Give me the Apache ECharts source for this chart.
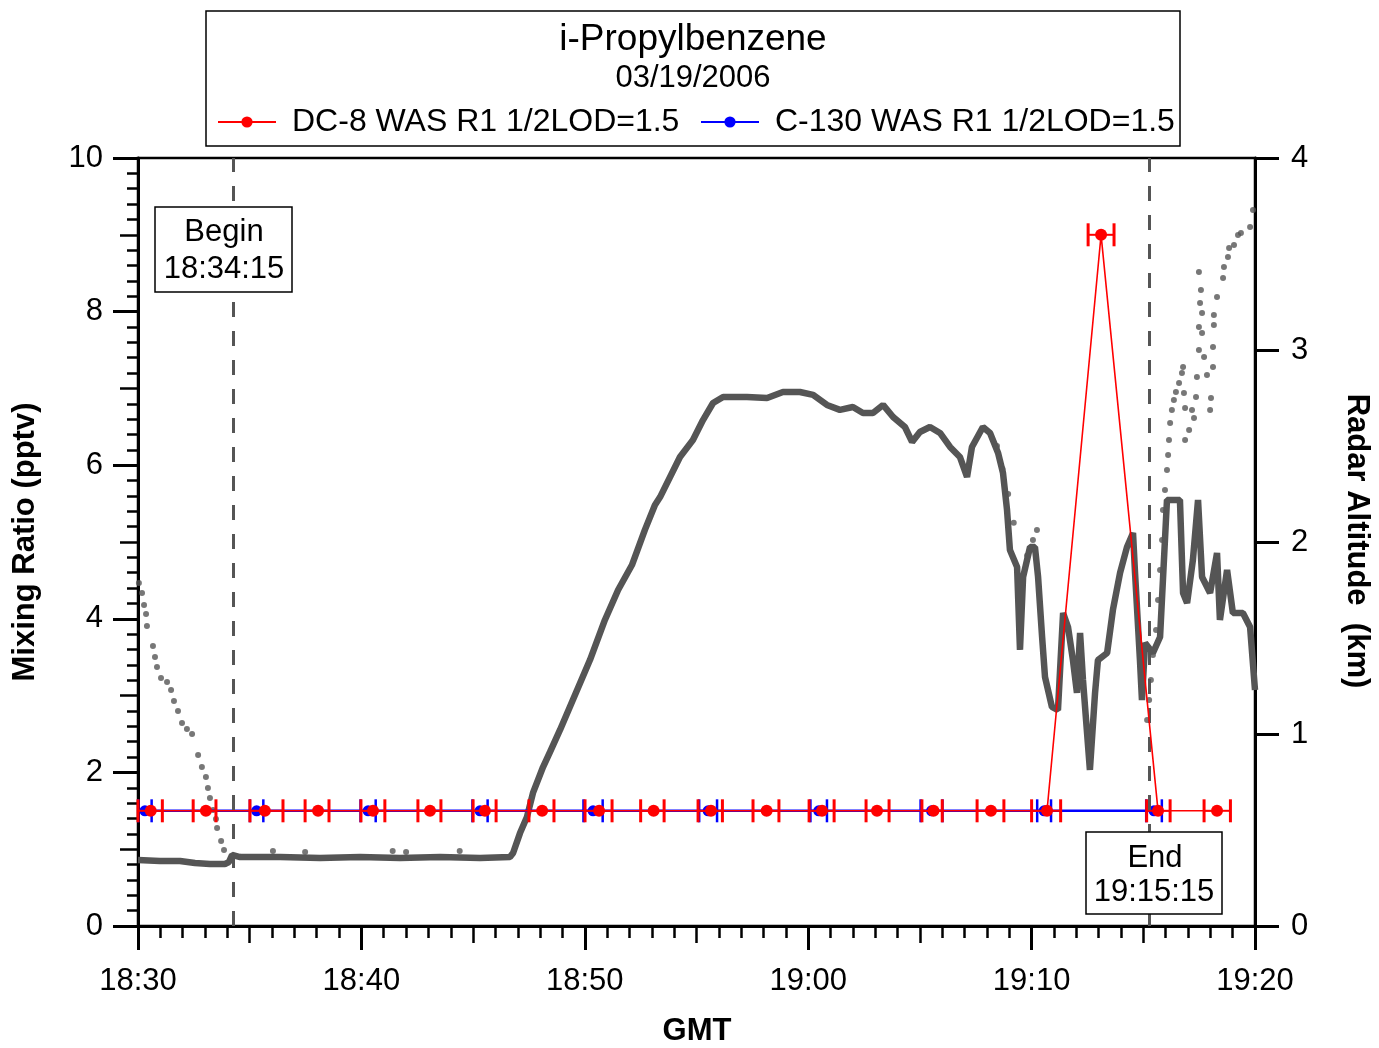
<!DOCTYPE html>
<html><head><meta charset="utf-8">
<script src="https://cdn.jsdelivr.net/npm/echarts@6/dist/echarts.min.js"></script>
<style>html,body{margin:0;padding:0;background:#fff}#c{width:1379px;height:1048px}</style>
</head><body><div id="c"></div><script>
const FONT = '"Liberation Sans", Arial, Helvetica, sans-serif';

// x axis in minutes after 18:30 GMT
const xTickLabels = ['18:30', '18:40', '18:50', '19:00', '19:10', '19:20'];
const leftTickLabels = ['0', '2', '4', '6', '8', '10'];
const rightTickLabels = ['0', '1', '2', '3', '4'];

// DC-8 WAS R1 (sample start, mid, end in minutes; mixing ratio pptv)
const dc8Start = [0.0, 2.47, 5.01, 7.48, 9.98, 12.53, 15.0, 17.5, 20.01, 22.5, 25.07, 27.53, 30.04, 32.59, 35.09, 37.56, 40.0, 42.53, 45.15, 47.72];
const dc8Mid   = [0.57, 3.04, 5.68, 8.06, 10.52, 13.07, 15.53, 18.09, 20.64, 23.08, 25.65, 28.14, 30.62, 33.08, 35.61, 38.18, 40.69, 43.11, 45.66, 48.3];
const dc8End   = [1.09, 3.49, 6.49, 8.55, 11.05, 13.56, 16.03, 18.62, 21.22, 23.55, 26.16, 28.69, 31.16, 33.62, 36.0, 38.76, 41.3, 43.69, 46.2, 48.9];
const dc8Value = [1.5, 1.5, 1.5, 1.5, 1.5, 1.5, 1.5, 1.5, 1.5, 1.5, 1.5, 1.5, 1.5, 1.5, 1.5, 1.5, 1.5, 9.0, 1.5, 1.5];

// C-130 WAS R1
const c130Start = [0.01, 5.01, 9.96, 14.97, 19.94, 25.12, 30.1, 35.03, 40.25, 45.13];
const c130Mid   = [0.31, 5.31, 10.3, 15.31, 20.37, 25.52, 30.47, 35.52, 40.56, 45.48];
const c130End   = [0.61, 5.61, 10.64, 15.65, 20.8, 25.92, 30.84, 36.01, 40.87, 45.83];
const c130Value = [1.5, 1.5, 1.5, 1.5, 1.5, 1.5, 1.5, 1.5, 1.5, 1.5];

// Radar altitude (km), main trace
const altTime = [0, 0.98, 1.88, 2.55, 3.22, 3.89, 4.07, 4.21, 4.57, 6.36, 8.15, 9.94, 11.73, 13.52, 15.31, 16.65, 16.79, 17.10, 17.41, 17.68, 18.13, 18.44, 18.89, 19.56, 20.23, 20.90, 21.49, 22.11, 22.69, 23.14, 23.37, 24.26, 24.84, 25.29, 25.74, 26.19, 27.26, 28.16, 28.87, 29.63, 30.22, 30.84, 31.42, 32.00, 32.45, 32.90, 33.35, 33.80, 34.33, 34.65, 35.00, 35.45, 35.90, 36.35, 36.79, 37.11, 37.33, 37.82, 38.14, 38.50, 38.72, 38.90, 39.03, 39.35, 39.48, 39.62, 39.93, 40.15, 40.29, 40.47, 40.60, 40.91, 41.18, 41.41, 41.63, 41.85, 42.03, 42.17, 42.30, 42.61, 42.84, 42.97, 43.38, 43.64, 43.96, 44.27, 44.54, 44.63, 44.85, 44.94, 45.08, 45.43, 45.75, 46.06, 46.64, 46.78, 46.96, 47.22, 47.45, 47.63, 47.99, 48.30, 48.43, 48.75, 49.01, 49.46, 49.78, 50.00];
const altKm = [0.344, 0.339, 0.339, 0.328, 0.323, 0.323, 0.333, 0.370, 0.359, 0.359, 0.354, 0.359, 0.354, 0.359, 0.354, 0.359, 0.380, 0.484, 0.568, 0.693, 0.828, 0.906, 1.021, 1.203, 1.385, 1.594, 1.750, 1.880, 2.063, 2.193, 2.234, 2.443, 2.531, 2.635, 2.724, 2.755, 2.755, 2.750, 2.781, 2.781, 2.766, 2.714, 2.688, 2.703, 2.672, 2.672, 2.714, 2.651, 2.599, 2.521, 2.573, 2.599, 2.568, 2.495, 2.443, 2.339, 2.495, 2.599, 2.568, 2.464, 2.359, 2.167, 1.958, 1.870, 1.438, 1.818, 1.974, 1.974, 1.818, 1.505, 1.297, 1.141, 1.125, 1.630, 1.557, 1.385, 1.214, 1.526, 1.281, 0.813, 1.214, 1.385, 1.422, 1.646, 1.839, 1.974, 2.047, 1.839, 1.385, 1.177, 1.474, 1.422, 1.505, 2.219, 2.219, 1.734, 1.682, 1.906, 2.219, 1.818, 1.734, 1.943, 1.594, 1.854, 1.630, 1.630, 1.557, 1.229];

// Radar altitude (km), sparse dotted trace
const dotTime = [0.04, 0.18, 0.27, 0.36, 0.40, 0.67, 0.76, 0.85, 1.03, 1.30, 1.48, 1.61, 1.79, 1.97, 2.19, 2.42, 2.69, 2.86, 3.04, 3.13, 3.22, 3.36, 3.49, 3.54, 3.72, 3.85, 6.04, 7.48, 11.4, 12.0, 14.4, 38.45, 38.7, 38.95, 39.2, 39.8, 40.06, 40.24, 45.17, 45.26, 45.34, 45.43, 45.57, 45.66, 45.75, 45.84, 45.88, 45.97, 46.06, 46.11, 46.15, 46.20, 46.28, 46.37, 46.46, 46.60, 46.73, 46.78, 46.82, 46.87, 46.87, 47.05, 47.18, 47.27, 47.36, 47.40, 47.49, 47.49, 47.54, 47.49, 47.58, 47.63, 47.63, 47.72, 47.85, 48.03, 47.99, 48.12, 48.12, 48.16, 48.16, 48.30, 48.57, 48.61, 48.79, 48.84, 49.06, 49.24, 49.37, 49.78, 49.91];
const dotKm = [1.786, 1.734, 1.672, 1.625, 1.563, 1.458, 1.401, 1.349, 1.292, 1.271, 1.229, 1.172, 1.120, 1.057, 1.026, 1.000, 0.891, 0.828, 0.776, 0.719, 0.667, 0.604, 0.557, 0.510, 0.443, 0.396, 0.390, 0.385, 0.390, 0.385, 0.390, 2.50, 2.38, 2.25, 2.10, 1.93, 2.01, 2.063, 1.073, 1.177, 1.281, 1.411, 1.542, 1.698, 1.854, 2.010, 2.167, 2.271, 2.375, 2.453, 2.531, 2.620, 2.688, 2.740, 2.781, 2.828, 2.880, 2.911, 2.776, 2.698, 2.531, 2.583, 2.688, 2.646, 2.755, 2.859, 3.000, 3.120, 3.245, 3.406, 3.313, 3.193, 3.089, 2.964, 2.870, 2.750, 2.688, 2.911, 3.016, 3.130, 3.182, 3.276, 3.375, 3.432, 3.484, 3.531, 3.547, 3.599, 3.609, 3.641, 3.729];

// Begin / End markers
const markerTimes = [4.25, 45.25];
const markerTitles = ['Begin', 'End'];
const markerLabels = ['18:34:15', '19:15:15'];

const DC8_NAME = 'DC-8 WAS R1 1/2LOD=1.5';
const C130_NAME = 'C-130 WAS R1 1/2LOD=1.5';

function zip(a, b) { return a.map((v, i) => [v, b[i]]); }

function errorBarRenderer(color, capW, barW) {
  return function (params, api) {
    const s = api.coord([api.value(0), api.value(2)]);
    const e = api.coord([api.value(1), api.value(2)]);
    const h = 11.5;
    return {
      type: 'group',
      children: [
        { type: 'line', shape: { x1: s[0], y1: s[1], x2: e[0], y2: e[1] }, style: { stroke: color, lineWidth: barW } },
        { type: 'line', shape: { x1: s[0], y1: s[1] - h, x2: s[0], y2: s[1] + h }, style: { stroke: color, lineWidth: capW } },
        { type: 'line', shape: { x1: e[0], y1: e[1] - h, x2: e[0], y2: e[1] + h }, style: { stroke: color, lineWidth: capW } }
      ]
    };
  };
}

const tickStyle = (len, w) => ({ show: true, inside: false, length: len, lineStyle: { color: '#000', width: w } });
const noLine = { show: false };
const noSplit = { show: false };

const chart = echarts.init(document.getElementById('c'), null, { renderer: 'canvas' });

const legendCommon = {
  orient: 'horizontal', padding: 0, itemWidth: 58, itemHeight: 14, selectedMode: false,
  textStyle: { fontSize: 32, fontFamily: FONT, color: '#000', padding: [0, 0, 0, 11] }
};

const option = {
  animation: false,
  backgroundColor: '#fff',
  grid: { left: 138, top: 158, width: 1117, height: 768, show: true, borderColor: '#000', borderWidth: 2.5, backgroundColor: 'transparent' },
  legend: [
    Object.assign({ data: [DC8_NAME], left: 217, top: 106 }, legendCommon),
    Object.assign({ data: [C130_NAME], left: 700, top: 106 }, legendCommon)
  ],
  xAxis: [
    { type: 'value', min: 0, max: 50, interval: 10, position: 'bottom',
      axisLine: { show: true, onZero: false, lineStyle: { color: '#000', width: 3 } },
      axisTick: tickStyle(24, 3),
      axisLabel: { fontSize: 31, fontFamily: FONT, color: '#000', margin: 40, formatter: v => xTickLabels[Math.round(v / 10)] },
      splitLine: noSplit },
    { type: 'value', min: 0, max: 50, interval: 5, position: 'bottom', axisLine: noLine, axisTick: tickStyle(17, 2.5), axisLabel: { show: false }, splitLine: noSplit },
    { type: 'value', min: 0, max: 50, interval: 1, position: 'bottom', axisLine: noLine, axisTick: tickStyle(12, 2.5), axisLabel: { show: false }, splitLine: noSplit }
  ],
  yAxis: [
    { type: 'value', min: 0, max: 10, interval: 2, position: 'left',
      axisLine: { show: true, onZero: false, lineStyle: { color: '#000', width: 3 } },
      axisTick: tickStyle(25, 3),
      axisLabel: { fontSize: 31, fontFamily: FONT, color: '#000', margin: 35, formatter: v => leftTickLabels[Math.round(v / 2)] },
      splitLine: noSplit },
    { type: 'value', min: 0, max: 10, interval: 1, position: 'left', axisLine: noLine, axisTick: tickStyle(18, 2.5), axisLabel: { show: false }, splitLine: noSplit },
    { type: 'value', min: 0, max: 10, interval: 0.2, position: 'left', axisLine: noLine, axisTick: tickStyle(11, 2.5), axisLabel: { show: false }, splitLine: noSplit },
    { type: 'value', min: 0, max: 4, interval: 1, position: 'right',
      axisLine: { show: true, onZero: false, lineStyle: { color: '#000', width: 3 } },
      axisTick: tickStyle(24, 3),
      axisLabel: { fontSize: 31, fontFamily: FONT, color: '#000', margin: 36, formatter: v => rightTickLabels[Math.round(v)] },
      splitLine: noSplit }
  ],
  series: [
    { name: 'Radar Altitude', type: 'line', xAxisIndex: 0, yAxisIndex: 3, data: zip(altTime, altKm),
      symbol: 'none', lineStyle: { color: '#555555', width: 6.5 }, z: 1, silent: true,
      markLine: { silent: true, symbol: ['none', 'none'], label: { show: false },
        lineStyle: { color: '#555555', width: 3, type: [15, 14] },
        data: markerTimes.map(t => ({ xAxis: t })) } },
    { name: 'Radar Altitude dots', type: 'scatter', xAxisIndex: 0, yAxisIndex: 3, data: zip(dotTime, dotKm),
      symbol: 'circle', symbolSize: 6, itemStyle: { color: '#555555' }, z: 1, silent: true },
    { name: C130_NAME + ' err', type: 'custom', xAxisIndex: 0, yAxisIndex: 0,
      data: c130Start.map((s, i) => [s, c130End[i], c130Value[i]]),
      encode: { x: [0, 1], y: 2 }, renderItem: errorBarRenderer('#0000ff', 2.5, 2), z: 3, silent: true },
    { name: C130_NAME, type: 'line', xAxisIndex: 0, yAxisIndex: 0, data: zip(c130Mid, c130Value),
      symbol: 'circle', symbolSize: 11, color: '#0000ff',
      lineStyle: { color: '#0000ff', width: 2.5 }, itemStyle: { color: '#0000ff' }, z: 3 },
    { name: DC8_NAME + ' err', type: 'custom', xAxisIndex: 0, yAxisIndex: 0,
      data: dc8Start.map((s, i) => [s, dc8End[i], dc8Value[i]]),
      encode: { x: [0, 1], y: 2 }, renderItem: errorBarRenderer('#ff0000', 3, 2), z: 4, silent: true },
    { name: DC8_NAME, type: 'line', xAxisIndex: 0, yAxisIndex: 0, data: zip(dc8Mid, dc8Value),
      symbol: 'circle', symbolSize: 12, color: '#ff0000',
      lineStyle: { color: '#ff0000', width: 1.6 }, itemStyle: { color: '#ff0000' }, z: 5 }
  ],
  graphic: [
    { type: 'rect', z: 50, shape: { x: 206, y: 11, width: 974, height: 135 }, style: { fill: 'transparent', stroke: '#000', lineWidth: 1.5 } },
    { type: 'text', z: 50, x: 693, y: 40, style: { text: 'i-Propylbenzene', font: '37px ' + FONT, fill: '#000', align: 'center', verticalAlign: 'middle' } },
    { type: 'text', z: 50, x: 693, y: 78, style: { text: '03/19/2006', font: '31px ' + FONT, fill: '#000', align: 'center', verticalAlign: 'middle' } },
    // Begin box
    { type: 'rect', z: 60, shape: { x: 155, y: 207, width: 137, height: 85 }, style: { fill: '#fff', stroke: '#000', lineWidth: 1.5 } },
    { type: 'text', z: 61, x: 224, y: 232, style: { text: markerTitles[0], font: '31px ' + FONT, fill: '#000', align: 'center', verticalAlign: 'middle' } },
    { type: 'text', z: 61, x: 224, y: 269, style: { text: markerLabels[0], font: '31px ' + FONT, fill: '#000', align: 'center', verticalAlign: 'middle' } },
    // End box
    { type: 'rect', z: 60, shape: { x: 1086, y: 832, width: 136, height: 82 }, style: { fill: '#fff', stroke: '#000', lineWidth: 1.5 } },
    { type: 'text', z: 61, x: 1155, y: 858, style: { text: markerTitles[1], font: '31px ' + FONT, fill: '#000', align: 'center', verticalAlign: 'middle' } },
    { type: 'text', z: 61, x: 1154, y: 892, style: { text: markerLabels[1], font: '31px ' + FONT, fill: '#000', align: 'center', verticalAlign: 'middle' } },
    // Axis titles
    { type: 'text', z: 50, x: 25, y: 542, rotation: Math.PI / 2, style: { text: 'Mixing Ratio (pptv)', font: 'bold 31px ' + FONT, fill: '#000', align: 'center', verticalAlign: 'middle' } },
    { type: 'text', z: 50, x: 1357, y: 541, rotation: -Math.PI / 2, style: { text: 'Radar Altitude  (km)', font: 'bold 31px ' + FONT, fill: '#000', align: 'center', verticalAlign: 'middle' } },
    { type: 'text', z: 50, x: 697, y: 1031, style: { text: 'GMT', font: 'bold 31px ' + FONT, fill: '#000', align: 'center', verticalAlign: 'middle' } }
  ]
};
chart.setOption(option);
</script></body></html>
